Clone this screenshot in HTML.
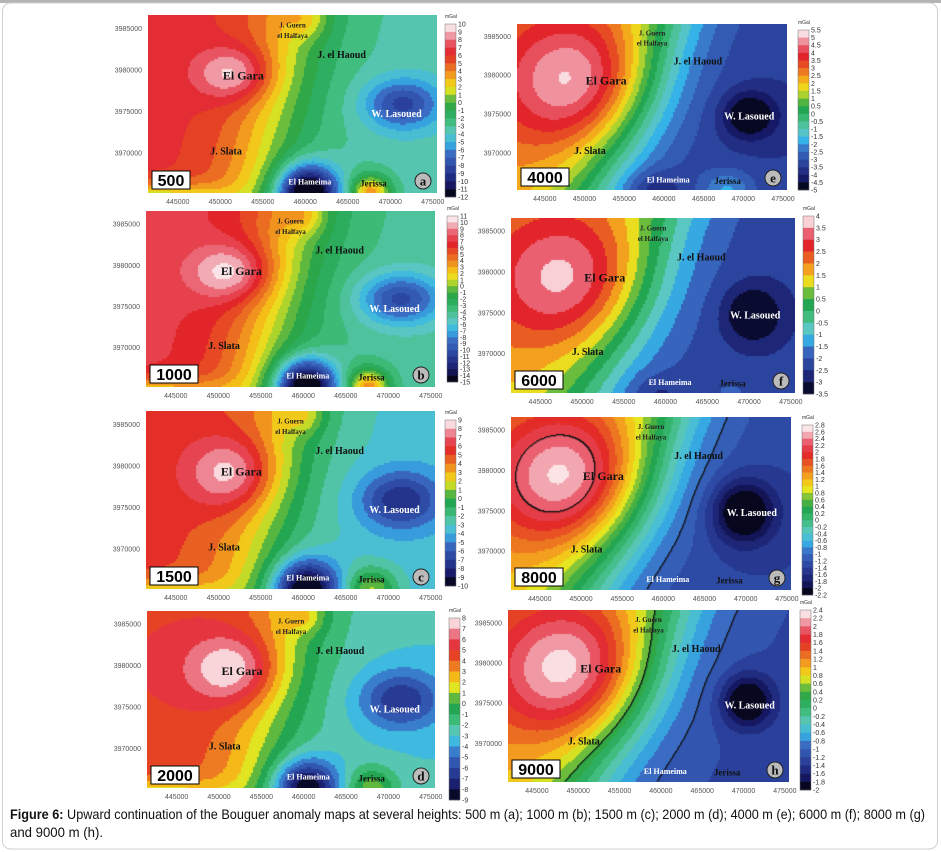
<!DOCTYPE html>
<html><head><meta charset="utf-8">
<style>
html,body{margin:0;padding:0;background:#fff;}
#root{position:relative;width:941px;height:852px;overflow:hidden;font-family:"Liberation Sans",sans-serif;}
canvas{position:absolute;}
svg{position:absolute;left:0;top:0;}
</style></head>
<body>
<div id="root">
<svg id="svg" width="941" height="852">
  <rect x="0" y="0" width="941" height="3" fill="#b4b4b4"/>
  <rect x="2.5" y="3" width="935" height="846" rx="8" fill="none" stroke="#d0d0d0"/>
  <text x="10" y="819" font-size="14" textLength="915" lengthAdjust="spacingAndGlyphs" fill="#111"><tspan font-weight="bold">Figure 6:</tspan> Upward continuation of the Bouguer anomaly maps at several heights: 500 m (a); 1000 m (b); 1500 m (c); 2000 m (d); 4000 m (e); 6000 m (f); 8000 m (g)</text>
  <text x="10" y="837" font-size="14" textLength="93" lengthAdjust="spacingAndGlyphs" fill="#111">and 9000 m (h).</text>
</svg>
</div>
<script>
// ---- data ----
const heights = ["500","1000","1500","2000","4000","6000","8000","9000"];
const panelLetters = ["a","b","c","d","e","f","g","h"];
const levelsA = [10,9,8,7,6,5,4,3,2,1,0,-1,-2,-3,-4,-5,-6,-7,-8,-9,-10,-11,-12];
const levelsB = [11,10,9,8,7,6,5,4,3,2,1,0,-1,-2,-3,-4,-5,-6,-7,-8,-9,-10,-11,-12,-13,-14,-15];
const levelsC = [9,8,7,6,5,4,3,2,1,0,-1,-2,-3,-4,-5,-6,-7,-8,-9,-10];
const levelsD = [8,7,6,5,4,3,2,1,0,-1,-2,-3,-4,-5,-6,-7,-8,-9];
const levelsE = [5.5,5,4.5,4,3.5,3,2.5,2,1.5,1,0.5,0,-0.5,-1,-1.5,-2,-2.5,-3,-3.5,-4,-4.5,-5];
const levelsF = [4,3.5,3,2.5,2,1.5,1,0.5,0,-0.5,-1,-1.5,-2,-2.5,-3,-3.5];
const levelsG = [2.8,2.6,2.4,2.2,2,1.8,1.6,1.4,1.2,1,0.8,0.6,0.4,0.2,0,-0.2,-0.4,-0.6,-0.8,-1,-1.2,-1.4,-1.6,-1.8,-2,-2.2];
const levelsH = [2.4,2.2,2,1.8,1.6,1.4,1.2,1,0.8,0.6,0.4,0.2,0,-0.2,-0.4,-0.6,-0.8,-1,-1.2,-1.4,-1.6,-1.8,-2];
// highlighted (black) contour values per panel
const blackContours = [[],[],[],[],[],[],[2.2,-1.0],[0.4,-1.0]];
// regional trend: [mid value, half amplitude west-east, centre, width, centre shift with depth]
const trendA = [1.5,5,.52,.2,-.15]; const trendB = [1.5,6,.52,.2,-.15]; const trendC = [1,4.5,.52,.2,-.15]; const trendD = [1,4,.52,.2,-.15];
const trendE = [-0.5,3,.56,.22,-.28]; const trendF = [-0.4,2,.56,.22,-.28]; const trendG = [-0.1,1.3,.58,.22,-.3]; const trendH = [-0.1,1.15,.58,.22,-.3];
// anomaly sources: [amplitude, easting-frac, northing-frac(from top), sx, sy]
const srcA = [[4,.3,.33,.13,.15],[-5,.88,.5,.13,.14],[-12,.55,1.0,.1,.15],[7,.77,1.0,.07,.1],[2,.55,.03,.07,.1],[-6,0,1.05,.25,.1]];
const srcB = [[4.5,.3,.35,.14,.16],[-6,.88,.5,.14,.14],[-14,.55,1.0,.1,.15],[8,.77,1.0,.07,.1],[2.5,.55,.03,.07,.1],[-6,0,1.05,.25,.1]];
const srcC = [[4,.3,.35,.15,.2],[-4.5,.88,.5,.14,.16],[-8.5,.55,1.0,.11,.16],[4.5,.78,1.0,.09,.12],[2,.55,.03,.07,.1],[-4,0,1.05,.25,.1]];
const srcD = [[4,.3,.33,.16,.2],[-4,.88,.5,.14,.16],[-7,.55,1.0,.11,.16],[3.5,.78,1.0,.09,.12],[2,.55,.03,.07,.1],[-4,0,1.05,.25,.1]];
const srcE = [[3,.22,.35,.28,.4],[-2,.86,.55,.1,.14],[-1,.5,1.0,.1,.12],[1.5,.78,1.0,.1,.12]];
const srcF = [[2.3,.2,.35,.28,.4],[-1.5,.85,.55,.1,.16],[-0.6,.5,1.0,.1,.12],[0.4,.78,1.0,.1,.12]];
const srcG = [[1.6,.2,.35,.28,.4],[-1.1,.83,.55,.11,.18]];
const srcH = [[1.4,.22,.35,.28,.4],[-1.0,.85,.53,.09,.15]];
const yTicks = ["3985000","3980000","3975000","3970000"];
const yTickVals = [3985000,3980000,3975000,3970000];
const xTicks = ["445000","450000","455000","460000","465000","470000","475000"];
const xTickVals = [445000,450000,455000,460000,465000,470000,475000];
const eastRange = [441500,475500];
const northRange = [3986600,3965200];

// layout (pixel boxes)
const maps = [
 [148,15,289,178],[146,211,289,176],[146,411,289,178],[147,611,288,177],
 [517,24,270,166],[511,218,284,175],[511,417,280,173],[508,610,281,172]];
const bars = [[445,24,173],[447,216,166],[445,420,166],[449,618,182],[798,30,160],[803,216,178],[802,425,170],[800,610,180]];
const levels=[levelsA,levelsB,levelsC,levelsD,levelsE,levelsF,levelsG,levelsH];
const trends=[trendA,trendB,trendC,trendD,trendE,trendF,trendG,trendH];
const srcs=[srcA,srcB,srcC,srcD,srcE,srcF,srcG,srcH];

const stops=[[0,[0,0,0]],[.07,[22,24,100]],[.15,[40,60,150]],[.25,[58,108,196]],[.31,[53,180,232]],[.37,[92,200,192]],
 [.44,[61,187,120]],[.51,[31,162,74]],[.57,[110,190,60]],[.62,[230,230,32]],[.67,[245,192,24]],[.72,[240,138,32]],
 [.77,[232,90,34]],[.83,[226,34,40]],[.90,[234,96,112]],[.95,[244,184,192]],[1,[255,255,255]]];
function pal(t){for(let i=1;i<stops.length;i++){if(t<=stops[i][0]){const a=stops[i-1],b=stops[i];const f=(t-a[0])/(b[0]-a[0]);
 return 'rgb('+a[1].map((c,j)=>Math.round(c+(b[1][j]-c)*f)).join(',')+')';}}return 'rgb(255,255,255)';}

const NS="http://www.w3.org/2000/svg";
const svg=document.getElementById('svg');
const root=document.getElementById('root');
function T(x,y,s,opt){const t=document.createElementNS(NS,'text');t.setAttribute('x',x);t.setAttribute('y',y);t.textContent=s;
 for(const k in opt)t.setAttribute(k,opt[k]);svg.appendChild(t);return t;}

const names=[["El Gara",.33,.34,"#111",12],["J. Slata",.27,.76,"#111",10],["J. el Haoud",.67,.22,"#111",10],["W. Lasoued",.86,.55,"#fff",10],["El Hameima",.56,.93,"#fff",8],["Jerissa",.78,.94,"#111",9]];

for(let p=0;p<8;p++){
 const [mx,my,mw,mh]=maps[p];const lv=levels[p];const vmax=lv[0],vmin=lv[lv.length-1];const nb=lv.length-1;
 const tr=trends[p],sr=srcs[p];
 function field(u,v){let f=tr[0]-tr[1]*Math.tanh((u-tr[2]-tr[4]*v)/tr[3]);for(const s of sr){const dx=(u-s[1])/s[3],dy=(v-s[2])/s[4];f+=s[0]*Math.exp(-(dx*dx+dy*dy));}return f;}
 function color(f){let k=Math.floor((f-vmin)/(vmax-vmin)*nb);k=Math.max(0,Math.min(nb-1,k));return pal((k+0.5)/nb);}
 const cv=document.createElement('canvas');cv.width=mw;cv.height=mh;cv.style.left=mx+'px';cv.style.top=my+'px';
 
 
 root.insertBefore(cv,svg);
 const ctx=cv.getContext('2d');const c=2;
 for(let y=0;y<mh;y+=c)for(let x=0;x<mw;x+=c){ctx.fillStyle=color(field((x+1)/mw,(y+1)/mh));ctx.fillRect(x,y,c,c);}
 // black contour lines
 const bc=blackContours[p];
 if(bc.length){ctx.fillStyle='#111';
  for(let y=0;y<mh-1;y++)for(let x=0;x<mw-1;x++){const f0=field(x/mw,y/mh),f1=field((x+1)/mw,y/mh),f2=field(x/mw,(y+1)/mh);
   for(const cval of bc){if((f0-cval)*(f1-cval)<=0||(f0-cval)*(f2-cval)<=0){ctx.fillRect(x,y,1.3,1.3);}}}}
 const xs=e=>mx+(e-eastRange[0])/(eastRange[1]-eastRange[0])*mw;
 const ys=n=>my+(n-northRange[0])/(northRange[1]-northRange[0])*mh;
 yTickVals.forEach((n,i)=>{const t=T(mx-6,ys(n)+2.5,yTicks[i],{'font-size':7,'text-anchor':'end',fill:'#555'});
  });
 xTickVals.forEach((e,i)=>{const t=T(xs(e),my+mh+11,xTicks[i],{'font-size':7,'text-anchor':'middle',fill:'#555'});
  });
 let g=T(mx+.5*mw,my+.07*mh,"J. Guern",{'font-size':7,'text-anchor':'middle',fill:'#222','font-family':'Liberation Serif',"font-weight":"bold"});
 
 g=T(mx+.5*mw,my+.13*mh,"el Halfaya",{'font-size':7,'text-anchor':'middle',fill:'#222','font-family':'Liberation Serif',"font-weight":"bold"});
 
 names.forEach(nm=>{const t=T(mx+nm[1]*mw,my+nm[2]*mh+4,nm[0],{'font-size':nm[4],'text-anchor':'middle',fill:nm[3],'font-family':'Liberation Serif','font-weight':'bold'});
  });
 const bw=heights[p].length*10+8;
 const r=document.createElementNS(NS,'rect');r.setAttribute('x',mx+4);r.setAttribute('y',my+mh-22);r.setAttribute('width',bw);r.setAttribute('height',18);
 r.setAttribute('fill','#fff');r.setAttribute('stroke','#000');
 svg.appendChild(r);
 g=T(mx+4+bw/2,my+mh-7,heights[p],{'font-size':16,'font-weight':'bold','text-anchor':'middle',fill:'#000'});
 
 const ci=document.createElementNS(NS,'circle');ci.setAttribute('cx',mx+mw-14);ci.setAttribute('cy',my+mh-12);ci.setAttribute('r',8);
 ci.setAttribute('fill','#bbb');ci.setAttribute('stroke','#222');
 svg.appendChild(ci);
 g=T(mx+mw-14,my+mh-7.5,panelLetters[p],{'font-size':13,'font-weight':'bold','text-anchor':'middle',fill:'#111','font-family':'Liberation Serif'});
 
 const [bx,by,bh]=bars[p];const bandH=bh/nb;
 for(let k=0;k<nb;k++){const rr=document.createElementNS(NS,'rect');rr.setAttribute('x',bx);rr.setAttribute('y',by+k*bandH);
  rr.setAttribute('width',11);rr.setAttribute('height',bandH+0.3);rr.setAttribute('fill',pal((nb-1-k+0.5)/nb));
  svg.appendChild(rr);}
 const fr=document.createElementNS(NS,'rect');fr.setAttribute('x',bx);fr.setAttribute('y',by);fr.setAttribute('width',11);fr.setAttribute('height',bh);
 fr.setAttribute('fill','none');fr.setAttribute('stroke','#777');fr.setAttribute('stroke-width','0.5');
 svg.appendChild(fr);
 lv.forEach((val,i)=>{const t=T(bx+13,by+i*bandH+2.5,String(val),{'font-size':Math.min(7,bandH+1),fill:'#333'});
  });
 g=T(bx,by-6,"mGal",{'font-size':5,fill:'#333'});
}
</script>
</body></html>
